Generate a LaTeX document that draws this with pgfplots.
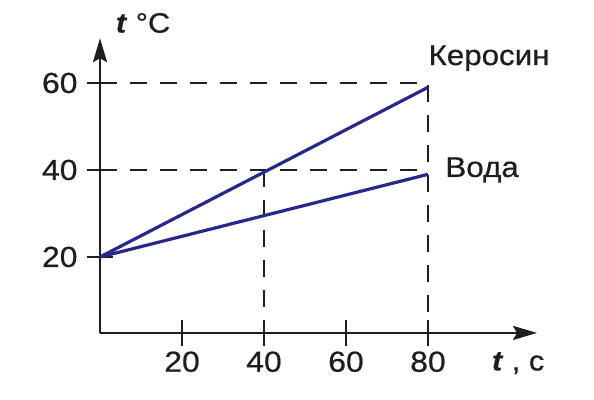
\documentclass[border=0pt]{standalone}
\usepackage{fontspec}
\setmainfont{Liberation Sans}[FakeStretch=1.1, FakeBold=0.6]
\usepackage{pgfplots}
\pgfplotsset{compat=1.18}
\usetikzlibrary{arrows.meta}
\definecolor{lineblue}{RGB}{40,40,140}
\definecolor{axisgray}{RGB}{30,30,30}
\begin{document}
\begin{tikzpicture}
\begin{axis}[
  x=4.1pt, y=4.35pt,
  xmin=0, xmax=106.6, ymin=2.53, ymax=70.3,
  axis lines=left,
  axis line style={line width=2.5pt, axisgray, -{Stealth[length=24pt,width=14pt,inset=4pt]}},
  xtick={20,40,60,80}, ytick={20,40,60},
  tick align=center,
  major tick length=26pt,
  tick style={line width=2.2pt, axisgray},
  /pgf/number format/assume math mode=true,
  tick label style={font=\fontsize{29}{33}\selectfont, text=axisgray},
  xticklabel style={yshift=-2pt},
  yticklabel style={xshift=-6pt},
  clip=false,
]
\addplot[line width=2.3pt, axisgray, dash pattern=on 17pt off 13pt] coordinates {(0,60) (80,60) (80,2.53)};
\addplot[line width=2.3pt, axisgray, dash pattern=on 17pt off 13pt] coordinates {(0,40) (80,40)};
\addplot[line width=2.3pt, axisgray, dash pattern=on 17pt off 13pt] coordinates {(40,40) (40,2.53)};
\addplot[lineblue, line width=3.2pt] coordinates {(0,20) (80,59)};
\addplot[lineblue, line width=3.2pt] coordinates {(0,20) (80,39)};
\node[font=\fontsize{28.5}{32}\selectfont, text=axisgray] at (axis cs:94.9,65.7) {Керосин};
\node[font=\fontsize{28.5}{32}\selectfont, text=axisgray] at (axis cs:93.2,40) {Вода};
\node[font=\fontsize{28}{32}\selectfont, text=axisgray] at (axis cs:10.5,73.8) {\textbf{\textit{t}} °C};
\node[font=\fontsize{28}{32}\selectfont, text=axisgray] at (axis cs:102,-4.4) {\textbf{\textit{t}} , c};
\coordinate (bl) at (axis cs:-24.4,-12.87);
\coordinate (tr) at (axis cs:120.5,79.08);
\end{axis}
\pgfresetboundingbox
\useasboundingbox (bl) rectangle (tr);
\end{tikzpicture}
\end{document}
